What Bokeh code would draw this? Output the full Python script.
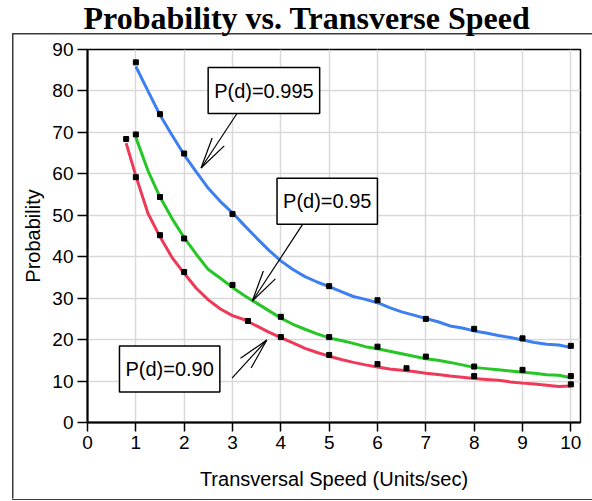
import math
from bokeh.plotting import figure
from bokeh.models import Range1d, Label, FixedTicker
from bokeh.embed import file_html
from bokeh.resources import INLINE

# ---- data ----
title_text = "Probability vs. Transverse Speed"
x_label = "Transversal Speed (Units/sec)"
y_label = "Probability"
x_ticks = [0, 1, 2, 3, 4, 5, 6, 7, 8, 9, 10]
y_ticks = [0, 10, 20, 30, 40, 50, 60, 70, 80, 90]

# fitted curves
line_x = [1.0, 1.25, 1.5, 1.75, 2.0, 2.25, 2.5, 2.75, 3.0, 3.25, 3.5, 3.75, 4.0, 4.25, 4.5, 4.75,
          5.0, 5.25, 5.5, 5.75, 6.0, 6.25, 6.5, 6.75, 7.0, 7.25, 7.5, 7.75, 8.0, 8.25, 8.5, 8.75,
          9.0, 9.25, 9.5, 9.75, 10.0]
blue_line = [85.9, 80.0, 74.2, 69.3, 64.6, 60.5, 56.5, 53.3, 50.6, 47.5, 44.5, 41.6, 39.0, 36.9, 35.2, 33.9,
             32.8, 31.6, 30.4, 29.7, 28.9, 27.7, 26.7, 25.9, 25.1, 24.3, 23.3, 22.8, 22.1, 21.6, 21.0, 20.5,
             19.9, 19.3, 18.9, 18.7, 18.1]
green_line = [68.8, 60.8, 54.4, 49.2, 44.6, 40.6, 36.9, 34.8, 32.6, 30.6, 28.8, 27.0, 25.2, 23.7, 22.5, 21.4,
              20.4, 19.8, 19.1, 18.3, 17.8, 17.2, 16.6, 16.0, 15.4, 15.0, 14.5, 13.9, 13.3, 13.0, 12.7, 12.4,
              12.1, 11.9, 11.5, 11.4, 10.8]
red_line_x = [0.8] + line_x
red_line = [67.4, 59.5, 50.5, 44.8, 39.8, 36.0, 32.4, 29.6, 27.4, 25.8, 24.8, 23.3, 21.8, 20.5, 19.2, 17.9, 16.9,
            16.0, 15.2, 14.5, 13.9, 13.4, 12.9, 12.6, 12.3, 11.9, 11.6, 11.2, 10.9, 10.6, 10.4, 10.2, 9.8,
            9.5, 9.3, 9.0, 8.7, 8.8]

# measured points
blue_pts_x = [1, 1.5, 2, 3, 5, 6, 7, 8, 9, 10]
blue_pts_y = [86.9, 74.4, 64.9, 50.3, 32.9, 29.5, 25.0, 22.6, 20.3, 18.5]
green_pts_x = [1, 1.5, 2, 3, 4, 5, 6, 7, 8, 9, 10]
green_pts_y = [69.5, 54.4, 44.4, 33.2, 25.5, 20.6, 18.3, 15.9, 13.5, 12.7, 11.2]
red_pts_x = [0.8, 1, 1.5, 2, 3.32, 4, 5, 6, 6.6, 8, 10]
red_pts_y = [68.4, 59.2, 45.2, 36.3, 24.5, 20.6, 16.3, 14.1, 13.1, 11.2, 9.2]

# callouts
callout_text = ["P(d)=0.995", "P(d)=0.95", "P(d)=0.90"]
callout_x = [3.65, 4.96, 1.70]
callout_y = [80.1, 53.4, 12.9]
arrow_x0 = [3.09, 4.45, 2.99]
arrow_y0 = [74.5, 47.8, 10.7]
arrow_x1 = [2.35, 3.41, 3.71]
arrow_y1 = [61.4, 29.3, 19.9]

# ---- figure ----
SHIFT = 12                       # canvas is pulled up so the title can sit high
W, H = 592, 500 + SHIFT
ML, MR, MT, MB = 87, 12, 48 + SHIFT, 78
XMAX, YMAX = 10.2, 90
FONT = "Liberation Sans"

p = figure(width=W, height=H, output_backend="svg", toolbar_location=None,
           x_range=Range1d(0, XMAX), y_range=Range1d(0, YMAX),
           min_border_left=ML, min_border_right=MR, min_border_top=MT, min_border_bottom=MB,
           title=title_text)
p.background_fill_color = "white"
p.border_fill_color = None
p.outline_line_color = "black"
p.outline_line_width = 1.5

# outer frame of the picture (left, top and bottom edges, as in the reference image)
edge = "#3a3a3a"
top_y = 33 + SHIFT
bot_y = 498.5 + SHIFT
g = f"linear-gradient({edge}, {edge})"
p.styles = {
    "margin-top": f"-{SHIFT}px",
    "background-color": "#ffffff",
    "background-image": f"{g}, {g}, {g}",
    "background-position": f"12px {top_y}px, 12px {top_y}px, 12px {bot_y}px",
    "background-size": f"1.5px {bot_y - top_y}px, 580px 1.5px, 580px 1.5px",
    "background-repeat": "no-repeat, no-repeat, no-repeat",
}

p.title.text_font = "Liberation Serif"
p.title.text_font_style = "bold"
p.title.text_font_size = "32px"
p.title.text_color = "black"
p.title.align = "left"
p.title.vertical_align = "top"
p.title.offset = -4
p.title.standoff = 23

for ax, ticks, out in ((p.xaxis[0], x_ticks, 9), (p.yaxis[0], y_ticks, 10)):
    ax.ticker = FixedTicker(ticks=ticks)
    ax.axis_line_width = 2
    ax.axis_line_color = "black"
    ax.major_tick_line_width = 1.5
    ax.major_tick_line_color = "black"
    ax.major_tick_out = out
    ax.major_tick_in = 0
    ax.minor_tick_line_color = None
    ax.major_label_text_font = FONT
    ax.major_label_text_font_size = "19px"
    ax.major_label_text_color = "black"
    ax.major_label_standoff = 4
    ax.axis_label_text_font = FONT
    ax.axis_label_text_font_size = "20px"
    ax.axis_label_text_font_style = "normal"
    ax.axis_label_text_color = "black"
p.xaxis.axis_label = x_label
p.yaxis.axis_label = y_label
p.xaxis.axis_label_standoff = 16
p.yaxis.axis_label_standoff = 5

p.xgrid.ticker = FixedTicker(ticks=x_ticks)
p.ygrid.ticker = FixedTicker(ticks=y_ticks)
for gr in (p.xgrid[0], p.ygrid[0]):
    gr.grid_line_color = "#d9d9d9"
    gr.grid_line_width = 1.5

# curves
p.line(red_line_x, red_line, line_color="#ee3a58", line_width=3)
p.line(line_x, green_line, line_color="#26c626", line_width=3)
p.line(line_x, blue_line, line_color="#3d7ff0", line_width=3)

for xs, ys in ((blue_pts_x, blue_pts_y), (green_pts_x, green_pts_y), (red_pts_x, red_pts_y)):
    p.scatter(xs, ys, marker="square", size=5, fill_color="black", line_color="black")

# callout arrows: shaft + two barbs (rays in screen space)
sx = (W - ML - MR) / XMAX
sy = (H - MT - MB) / YMAX
p.segment(arrow_x0, arrow_y0, arrow_x1, arrow_y1, line_color="black", line_width=1.2)
barb_x, barb_y, barb_a = [], [], []
for x0, y0, x1, y1 in zip(arrow_x0, arrow_y0, arrow_x1, arrow_y1):
    a = math.atan2((y0 - y1) * sy, (x0 - x1) * sx)
    for d in (-13, 13):
        barb_x.append(x1)
        barb_y.append(y1)
        barb_a.append(a + math.radians(d))
p.ray(barb_x, barb_y, length=32, length_units="screen", angle=barb_a,
      line_color="black", line_width=1.2)

for t, x, y in zip(callout_text, callout_x, callout_y):
    p.add_layout(Label(x=x, y=y, text=t, text_align="center", text_baseline="middle",
                       text_font=FONT, text_font_size="20px", text_color="black",
                       border_line_color="black", border_line_width=1.5,
                       background_fill_color="white", padding=(6, 12)))

open("out.html", "w").write(file_html(p, INLINE))
